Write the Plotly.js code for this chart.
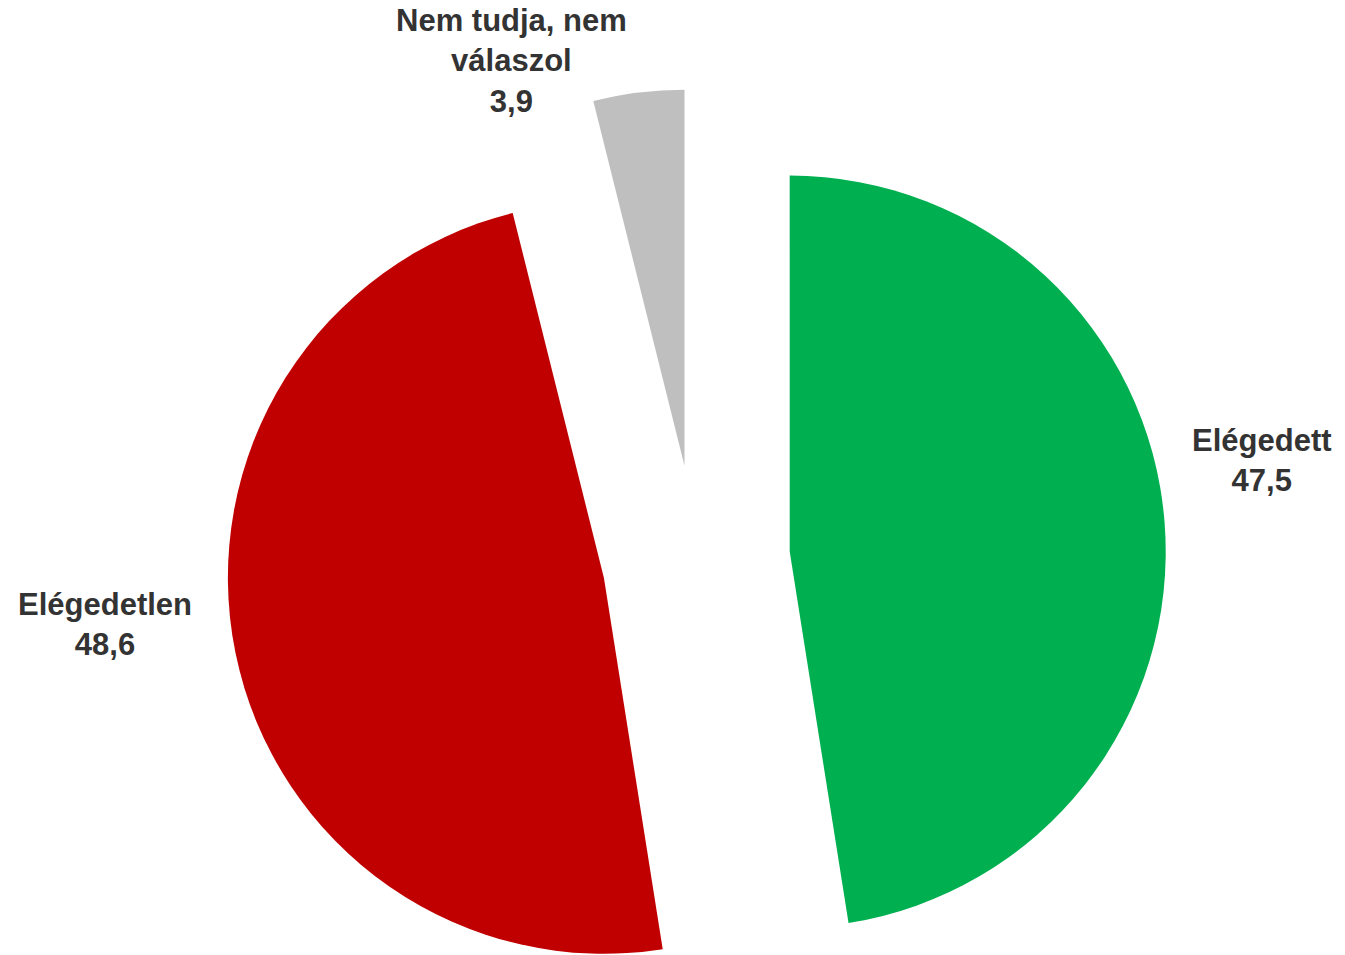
<!DOCTYPE html>
<html>
<head>
<meta charset="utf-8">
<script src="https://cdn.plot.ly/plotly-3.0.1.min.js"></script>
<style>
html, body { margin:0; padding:0; overflow:hidden; background:#fff; }
#wrap { width:1345px; height:955px; overflow:hidden; }
</style>
</head>
<body>
<div id="wrap"><div id="chart"></div></div>
<script>
const categories = ["Elégedett", "Elégedetlen", "Nem tudja, nem<br>válaszol"];
const values = [47.5, 48.6, 3.9];
const colors = ["#00B050", "#C00000", "#BFBFBF"];

const W = 1345, H = 1118;
const labelPos = [[1262, 460], [105, 624], [511, 61]];

function fmt(v) { return v.toFixed(1).replace('.', ','); }

const annotations = categories.map((c, i) => ({
  text: c + "<br>" + fmt(values[i]),
  x: labelPos[i][0] / W, y: 1 - labelPos[i][1] / H,
  xref: 'paper', yref: 'paper', xanchor: 'center', yanchor: 'middle',
  showarrow: false, align: 'center',
  font: {family: 'Liberation Sans, Arial, sans-serif', size: 31, color: '#333333', weight: 'bold'}
}));

Plotly.newPlot('chart', [{
  type: 'pie',
  labels: categories,
  values: values,
  marker: {colors: colors, line: {width: 0}},
  sort: false,
  direction: 'clockwise',
  rotation: 0,
  pull: [0.25, 0.25, 0.25],
  textinfo: 'none',
  hoverinfo: 'none',
  showlegend: false,
  domain: {x: [226 / W, 1166 / W], y: [0, 1]}
}], {
  width: W, height: H,
  margin: {l: 0, r: 0, t: 0, b: 0},
  paper_bgcolor: '#ffffff',
  annotations: annotations,
  showlegend: false
}, {displayModeBar: false, staticPlot: true});
</script>
</body>
</html>
